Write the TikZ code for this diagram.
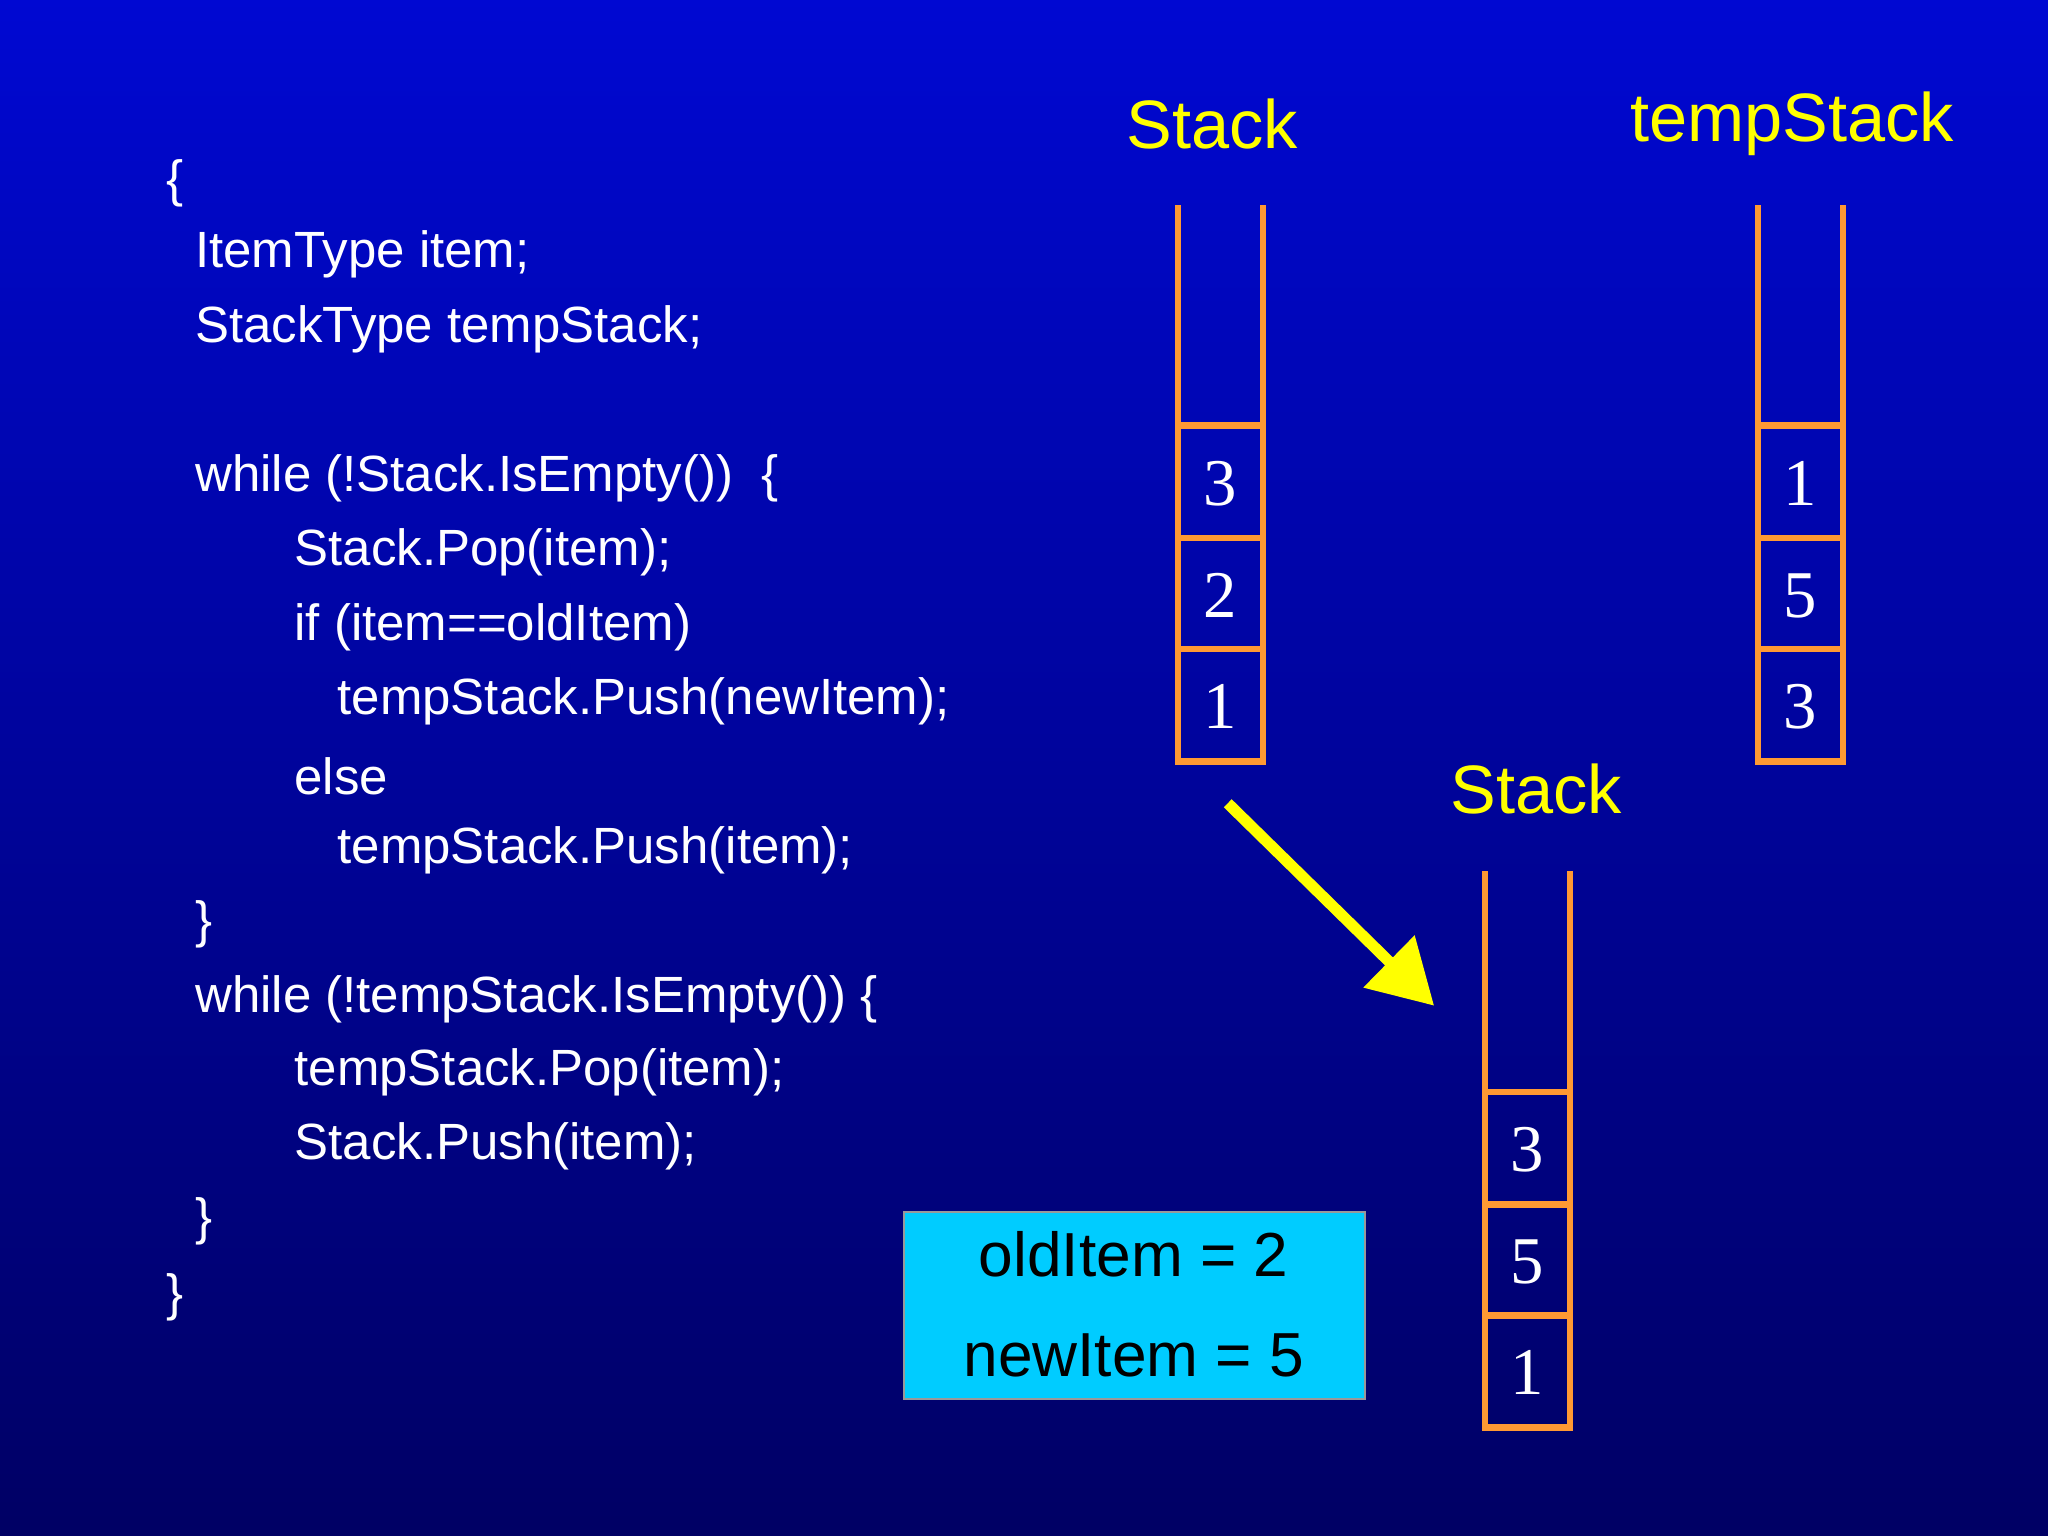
\documentclass[tikz,border=0pt]{standalone}
\usepackage{fontspec}
\setmainfont{Liberation Sans}
\newfontfamily\serifnum{Liberation Serif}
\usetikzlibrary{arrows.meta}
\definecolor{bgtop}{RGB}{0,8,210}
\definecolor{bgbot}{RGB}{0,0,100}
\definecolor{stk}{RGB}{255,153,51}
\definecolor{ttl}{RGB}{255,255,0}
\definecolor{boxc}{RGB}{0,204,255}
\begin{document}
\begin{tikzpicture}[x=0.013061cm,y=-0.013061cm,
  code/.style={anchor=west,text=white,font=\fontsize{14.5}{17}\selectfont,inner sep=0},
  title/.style={text=ttl,font=\fontsize{19.5}{23}\selectfont,inner sep=0},
  num/.style={text=white,font=\serifnum\fontsize{19}{22}\selectfont,inner sep=0},
  wall/.style={draw=stk,line width=1.9pt},
  boxtext/.style={text=black,font=\fontsize{17.7}{21}\selectfont,inner sep=0}]
\shade[top color=bgtop,bottom color=bgbot] (0,0) rectangle (1568,1176);
\useasboundingbox (0,0) rectangle (1568,1176);
% code
\node[code] (c1) at (127,140) {\{};
\node[code] (c2) at (149,195) {ItemType item;};
\node[code] (c3) at (149,252) {StackType tempStack;};
\node[code] (c4) at (149,366) {while (!Stack.IsEmpty())\ \ \{};
\node[code] (c5) at (225,423) {Stack.Pop(item);};
\node[code] (c6) at (225,480) {if (item==oldItem)};
\node[code] (c7) at (258,537) {tempStack.Push(newItem);};
\node[code] (c8) at (225,594) {else};
\node[code] (c9) at (258,651) {tempStack.Push(item);};
\node[code] (c10) at (149,708) {\}};
\node[code] (c11) at (149,765) {while (!tempStack.IsEmpty()) \{};
\node[code] (c12) at (225,821) {tempStack.Pop(item);};
\node[code] (c13) at (225,878) {Stack.Push(item);};
\node[code] (c14) at (149,935) {\}};
\node[code] (c15) at (127,993) {\}};
% stacks
\newcommand{\drawstk}[6]{% x, top, name, v1,v2,v3
  \draw[wall] (#1,#2) -- (#1,#2+426) -- (#1+65,#2+426) -- (#1+65,#2);
  \foreach \d in {169,255,340}{\draw[wall] (#1,#2+\d) -- (#1+65,#2+\d);}
  \node[num] (#3a) at (#1+32,#2+213) {#4};
  \node[num] (#3b) at (#1+32,#2+299) {#5};
  \node[num] (#3c) at (#1+32,#2+384) {#6};
}
\drawstk{902}{157}{s}{3}{2}{1}
\drawstk{1346}{157}{t}{1}{5}{3}
\drawstk{1137}{667}{r}{3}{5}{1}
\node[title] (ts) at (928,95) {Stack};
\node[title] (tt) at (1372,95) {tempStack};
\node[title] (tr) at (1176,604) {Stack};
% arrow
\coordinate (a1) at (940,615);
\coordinate (a2) at (1098,770);
\draw[ttl,line width=3.2pt,-{Triangle[length=18pt,width=20pt]}] (a1) -- (a2);
% box
\fill[boxc] (692,928) rectangle (1045,1071);
\draw[gray!80,line width=0.6pt] (692,928) rectangle (1045,1071);
\node[boxtext] (o) at (868,960) {oldItem = 2};
\node[boxtext] (n) at (868,1038) {newItem = 5};
\end{tikzpicture}
\end{document}
